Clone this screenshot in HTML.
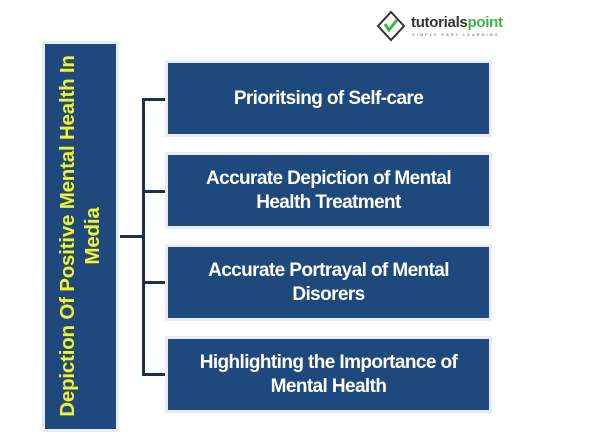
<!DOCTYPE html>
<html><head><meta charset="utf-8"><style>
body{margin:0;width:600px;height:440px;background:#fff;position:relative;overflow:hidden;font-family:"Liberation Sans",sans-serif}
.b{position:absolute;left:168px;width:321px;height:71px;background:#1f497d;color:#fff;font-weight:bold;font-size:19px;line-height:24px;display:flex;align-items:center;justify-content:center;text-align:center;box-shadow:0 0 0 3px #e8ecf2;letter-spacing:-0.6px}
.l{position:absolute;background:#1a3050}
#left{position:absolute;left:45px;top:44px;width:71px;height:385px;background:#1f497d;box-shadow:0 0 0 3px #e8ecf2}
#lt{position:absolute;left:80px;top:236px;width:385px;transform:translate(-50%,-50%) rotate(-90deg);color:#f2f230;font-weight:bold;font-size:20.5px;line-height:25px;text-align:center;white-space:nowrap;letter-spacing:-0.2px}
</style></head><body>
<div id="left"></div>
<div id="lt">Depiction Of Positive Mental Health In<br>Media</div>
<div class="l" style="left:120px;top:235px;width:23px;height:3px"></div>
<div class="l" style="left:142px;top:98px;width:3px;height:278px"></div>
<div class="l" style="left:142px;top:98px;width:26px;height:3px"></div>
<div class="l" style="left:142px;top:190px;width:26px;height:3px"></div>
<div class="l" style="left:142px;top:281px;width:26px;height:3px"></div>
<div class="l" style="left:142px;top:373px;width:26px;height:3px"></div>
<div class="b" style="top:63px">Prioritsing of Self-care</div>
<div class="b" style="top:155px">Accurate Depiction of Mental<br>Health Treatment</div>
<div class="b" style="top:247px">Accurate Portrayal of Mental<br>Disorers</div>
<div class="b" style="top:339px">Highlighting the Importance of<br>Mental Health</div>
<svg style="position:absolute;left:376px;top:10px" width="30" height="34"><polygon points="15,2 28,16 15,30 2,16" fill="#fff" stroke="#333" stroke-width="2"/><path d="M9,14 l4,6 8,-10" stroke="#3bb54a" stroke-width="3" fill="none"/></svg>
<div style="position:absolute;left:411px;top:14px;font-weight:bold;font-size:15px;color:#333;letter-spacing:-0.3px">tutorials<span style="color:#3bb54a">point</span></div>
<div style="position:absolute;left:412px;top:32px;font-size:4px;color:#555;letter-spacing:2px">SIMPLY EASY LEARNING</div>
</body></html>
